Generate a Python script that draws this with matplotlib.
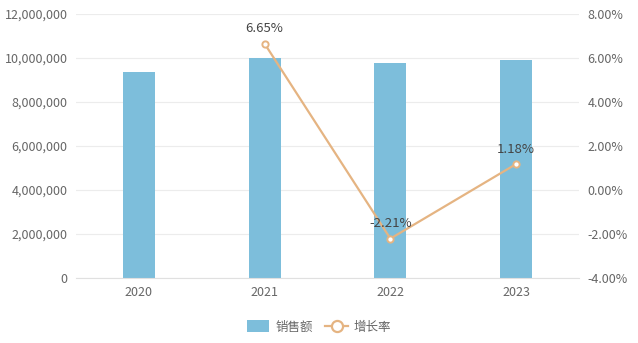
import matplotlib
matplotlib.use("Agg")
import matplotlib.pyplot as plt
from matplotlib.ticker import FuncFormatter
from matplotlib.lines import Line2D
from matplotlib.patches import Patch

plt.rcParams['font.family'] = ['Noto Sans CJK SC', 'DejaVu Sans']

years = ['2020', '2021', '2022', '2023']
sales = [9370000, 9993000, 9772000, 9887000]
growth = [None, 6.65, -2.21, 1.18]
growth_labels = ['', '6.65%', '-2.21%', '1.18%']

bar_color = '#7dbedb'
line_color = '#e5b482'
text_color = '#666666'

fig = plt.figure(figsize=(6.38, 3.43), dpi=100)
ax = fig.add_axes([76 / 638, 1 - 278 / 343, 503 / 638, 264 / 343])

x = list(range(len(years)))
ax.bar(x, sales, width=0.254, color=bar_color, zorder=2)
ax.set_xlim(-0.5, len(years) - 0.5)
ax.set_ylim(0, 12000000)
ax.set_yticks(range(0, 12000001, 2000000))
ax.yaxis.set_major_formatter(FuncFormatter(lambda v, p: '{:,.0f}'.format(v)))
ax.set_xticks(x)
ax.set_xticklabels(years)
ax.grid(axis='y', color='#ececec', lw=0.8, zorder=0)
for s in ['top', 'left', 'right']:
    ax.spines[s].set_visible(False)
ax.spines['bottom'].set_color('#e0e0e0')
ax.tick_params(axis='both', length=0, colors=text_color, labelsize=9)
ax.tick_params(axis='y', pad=6)
ax.tick_params(axis='x', pad=6)

ax2 = ax.twinx()
ax2.set_ylim(-4, 8)
ax2.set_yticks(range(-4, 9, 2))
ax2.yaxis.set_major_formatter(FuncFormatter(lambda v, p: '%.2f%%' % v))
ax2.tick_params(axis='y', length=0, colors=text_color, labelsize=9, pad=6)
for s in ax2.spines.values():
    s.set_visible(False)

gx = [i for i, g in enumerate(growth) if g is not None]
gy = [g for g in growth if g is not None]
ax2.plot(gx, gy, color=line_color, lw=1.6, marker='o', ms=4.5,
         mfc='white', mec=line_color, mew=1.4, zorder=3)
for i in gx:
    ax2.annotate(growth_labels[i], (i, growth[i]), xytext=(0, 6),
                 textcoords='offset points', ha='center', va='bottom',
                 fontsize=9.5, color='#444444')

handles = [Patch(facecolor=bar_color, edgecolor='none', label='销售额'),
           Line2D([0], [0], color=line_color, lw=1.6, marker='o', ms=8,
                  mfc='white', mec=line_color, mew=1.6, label='增长率')]
fig.legend(handles=handles, loc='center', bbox_to_anchor=(0.5, 1 - 327 / 343),
           ncol=2, frameon=False, fontsize=9, labelcolor=text_color,
           handlelength=1.8, handleheight=1.1, columnspacing=1.0,
           handletextpad=0.5)

fig.savefig('out.png', dpi=100)
